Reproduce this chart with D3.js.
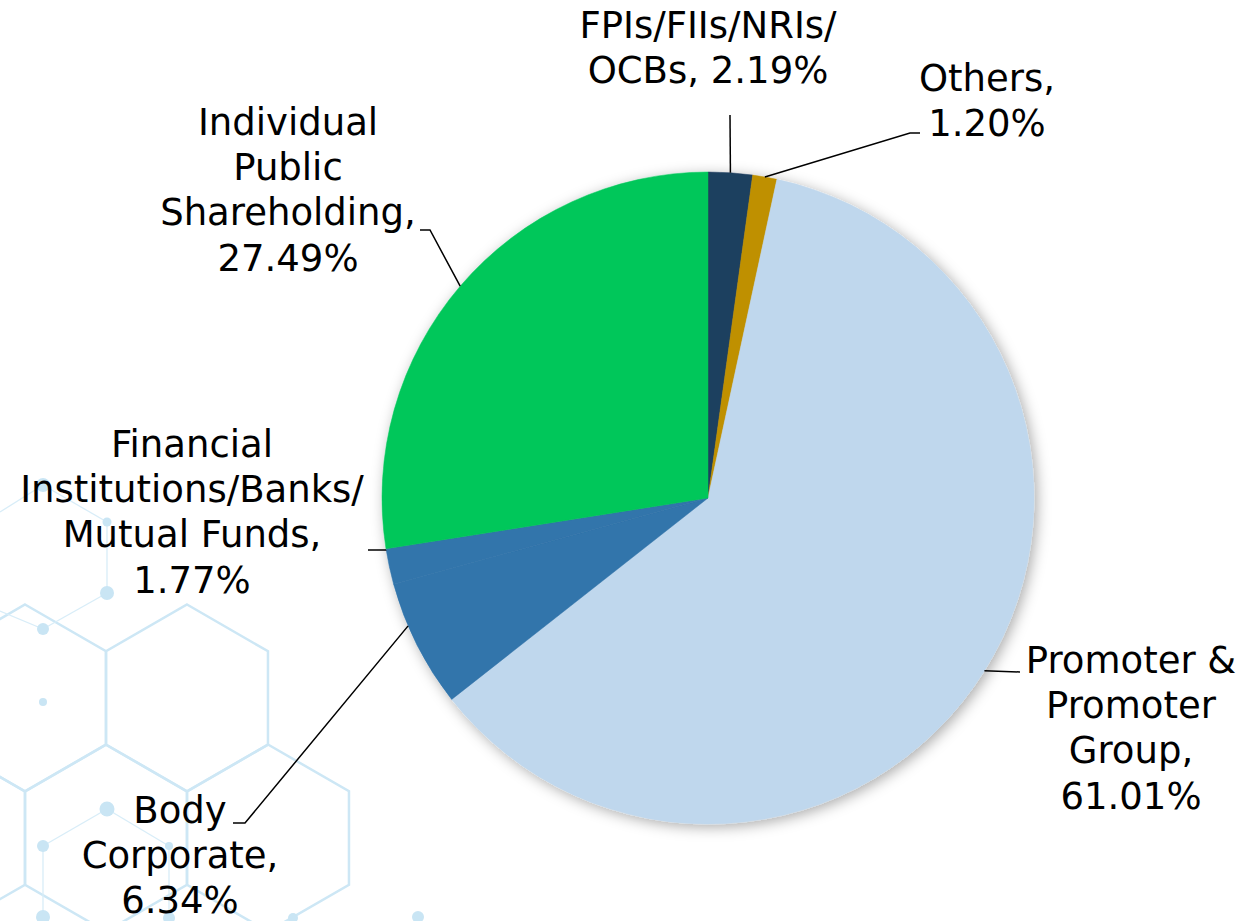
<!DOCTYPE html>
<html>
<head>
<meta charset="utf-8">
<script src="https://cdn.jsdelivr.net/npm/d3@7"></script>
<style>
  body { margin: 0; background: #fff; }
  text { font-family: "DejaVu Sans", Verdana, sans-serif; }
</style>
</head>
<body>
<div id="chart"></div>
<script>
// shareholding pattern
var categories = ["FPIs/FIIs/NRIs/OCBs", "Others", "Promoter & Promoter Group",
  "Body Corporate", "Financial Institutions/Banks/Mutual Funds", "Individual Public Shareholding"]
var shares = [2.19, 1.20, 61.01, 6.34, 1.77, 27.49]
var nameLines = [["FPIs/FIIs/NRIs/", "OCBs"], ["Others"], ["Promoter &", "Promoter", "Group"],
  ["Body", "Corporate"], ["Financial", "Institutions/Banks/", "Mutual Funds"],
  ["Individual", "Public", "Shareholding"]]
var colors = ["#1e3f5f", "#bf9000", "#bfd7ed", "#3174ab", "#3174ab", "#00c75a"]

// label placement (center x, first baseline, leader point on slice, leader elbow points)
var labelPos = [
  {x: 708, y: 38, frac: 0.5, pts: [[730, 115]], sameLine: true},
  {x: 987, y: 91, frac: 0.5, pts: [[910, 133], [920, 133]]},
  {x: 1131, y: 673, frac: 0.5, pts: [[1020, 672]]},
  {x: 180, y: 823, frac: 0.66, pts: [[245, 823], [233, 823]]},
  {x: 192, y: 457, frac: 0.97, pts: [[386, 550], [368, 550]]},
  {x: 288, y: 135, frac: 0.5, pts: [[430, 230], [420, 230]]}
]

var width = 1243, height = 921,
    cx = 708, cy = 498, radius = 326, lineH = 45.2

var svg = d3.select("#chart")
  .append("svg")
    .attr("width", width)
    .attr("height", height)

// background honeycomb decoration
var hexCenters = [[25, 698], [187, 698], [-56, 838], [106, 838], [268, 838]]
var hexR = 93.5
function hexPoints(c) {
  var p = []
  for (var i = 0; i < 6; i++) {
    var a = Math.PI / 3 * i - Math.PI / 2
    p.push([c[0] + hexR * Math.cos(a), c[1] + hexR * Math.sin(a)])
  }
  return p
}
var bg = svg.append("g")
bg.selectAll("path.hex")
  .data(hexCenters)
  .enter()
  .append("path")
    .attr("class", "hex")
    .attr("d", function (d) { return d3.line()(hexPoints(d)) + "Z" })
    .style("fill", "none")
    .style("stroke", "#cde7f5")
    .style("stroke-width", 2.5)

var molLinks = [[[0, 512], [43, 485]], [[43, 485], [107, 522]], [[107, 522], [107, 593]],
  [[107, 593], [43, 629]], [[43, 629], [0, 611]], [[107, 809], [43, 846]], [[107, 809], [169, 846]],
  [[43, 846], [43, 917]], [[169, 846], [169, 918]]]
var molDots = [[43, 485, 7], [107, 522, 4.5], [107, 593, 7], [43, 629, 6], [43, 702, 4],
  [107, 809, 7.5], [43, 846, 6], [169, 846, 4], [43, 917, 7], [169, 918, 6], [293, 918, 5], [418, 917, 6]]
bg.selectAll("line.mol")
  .data(molLinks)
  .enter()
  .append("line")
    .attr("x1", function (d) { return d[0][0] })
    .attr("y1", function (d) { return d[0][1] })
    .attr("x2", function (d) { return d[1][0] })
    .attr("y2", function (d) { return d[1][1] })
    .style("stroke", "#d8edf8")
    .style("stroke-width", 1.3)
bg.selectAll("circle.mol")
  .data(molDots)
  .enter()
  .append("circle")
    .attr("cx", function (d) { return d[0] })
    .attr("cy", function (d) { return d[1] })
    .attr("r", function (d) { return d[2] })
    .style("fill", "#c9e5f4")

// soft shadow under the pie
var defs = svg.append("defs")
var f = defs.append("filter").attr("id", "shadow")
  .attr("x", "-10%").attr("y", "-10%").attr("width", "120%").attr("height", "120%")
f.append("feDropShadow")
  .attr("dx", 3).attr("dy", 3).attr("stdDeviation", 7)
  .attr("flood-color", "#000").attr("flood-opacity", 0.33)

var data = shares.map(function (v, i) { return {name: categories[i], value: v, i: i} })

var pie = d3.pie()
  .sort(null)
  .value(function (d) { return d.value })
var arcs = pie(data)
var arc = d3.arc().innerRadius(0).outerRadius(radius)

var g = svg.append("g")
  .attr("transform", "translate(" + cx + "," + cy + ")")

g.append("g")
  .style("filter", "url(#shadow)")
  .selectAll("path")
  .data(arcs)
  .enter()
  .append("path")
    .attr("d", arc)
    .style("fill", function (d) { return colors[d.data.i] })
    .style("stroke", function (d) { return colors[d.data.i] })
    .style("stroke-width", 0.5)

// leader lines
svg.append("g")
  .selectAll("path")
  .data(arcs)
  .enter()
  .append("path")
    .attr("d", function (d) {
      var lp = labelPos[d.data.i]
      var a = d.startAngle + (d.endAngle - d.startAngle) * lp.frac
      var start = [cx + radius * Math.sin(a), cy - radius * Math.cos(a)]
      return d3.line()([start].concat(lp.pts))
    })
    .style("fill", "none")
    .style("stroke", "#000")
    .style("stroke-width", 1.5)

// labels
var labels = svg.append("g")
  .selectAll("text")
  .data(arcs)
  .enter()
  .append("text")
    .attr("text-anchor", "middle")
    .style("font-size", "37px")
    .style("fill", "#000")

labels.each(function (d) {
  var lp = labelPos[d.data.i]
  var pct = d.data.value.toFixed(2) + "%"
  var lines = nameLines[d.data.i].slice()
  if (lp.sameLine) {
    lines[lines.length - 1] += ", " + pct
  } else {
    lines[lines.length - 1] += ","
    lines.push(pct)
  }
  d3.select(this).selectAll("tspan")
    .data(lines)
    .enter()
    .append("tspan")
      .attr("x", lp.x)
      .attr("y", function (t, k) { return lp.y + k * lineH })
      .text(function (t) { return t })
})
</script>
</body>
</html>
